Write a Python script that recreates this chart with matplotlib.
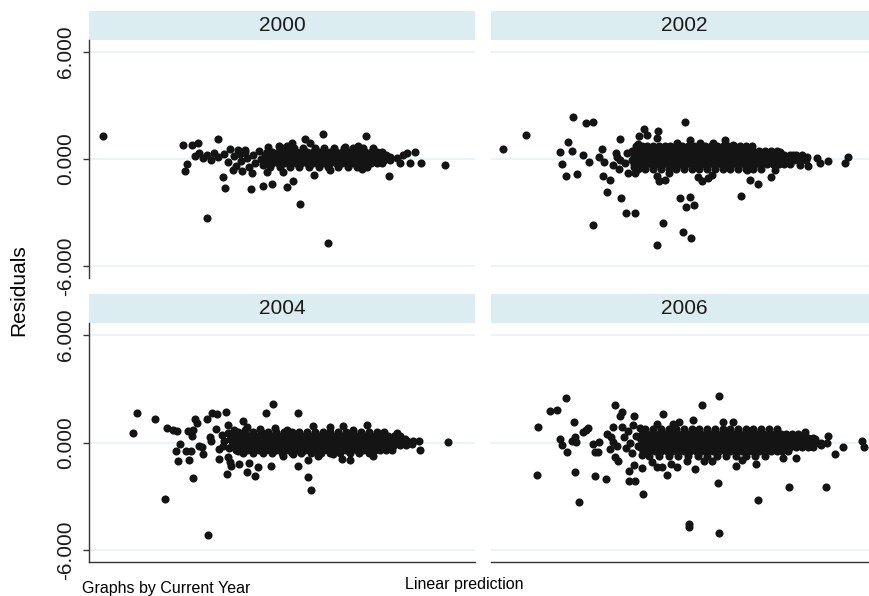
import matplotlib.pyplot as plt
import numpy as np

plt.rcParams['font.family'] = ['Liberation Sans', 'DejaVu Sans']

years = ['2000', '2002', '2004', '2006']
ytick_vals = [-6, 0, 6]
ytick_text = ['-6.000', '0.000', '6.000']

# scattered points (linear prediction, residual)
pts_2000 = [(3.6, 1.29), (24.3, 0.79), (26.7, 0.79), (28.2, 0.9), (33.4, 1.12), (24.9, -0.67),
            (25.4, -0.28), (30.6, -3.3), (35.2, -1.63), (34.7, -1.0), (42.0, -1.69), (45.1, -1.52),
            (47.4, -1.4), (51.3, -1.57), (52.8, -1.24), (54.7, -2.53), (62.0, -4.72), (50.2, -0.73),
            (58.3, -0.9), (60.6, 1.4), (56.0, 1.12), (71.8, 1.29), (77.7, -0.96), (84.5, 0.39),
            (86.0, -0.22), (92.2, -0.34),
            (27.5, 0.15), (28.5, 0.35), (29.5, 0.05), (30.5, 0.25), (31.5, -0.05), (32.5, 0.35),
            (33.5, 0.1), (35, 0.3), (36, -0.15), (36.5, 0.55), (37.5, 0.15), (38, -0.4), (39, 0.3),
            (39.5, -0.1), (40.5, 0.5), (41, 0.05), (41.5, -0.45), (42.5, 0.25), (43, -0.2), (44, 0.45),
            (44.5, 0.0), (45, -0.35),
            (46.5, 0.69), (49.1, 0.71), (51.3, 0.75), (52.6, 0.88), (57.3, 0.88), (66.3, 0.69),
            (69.7, 0.73), (38.7, 0.5), (40.4, 0.41),
            (37.4, -0.62), (39.6, -0.66), (42.1, -0.8), (46.0, -0.71), (62.5, -0.62), (70.6, -0.58),
            (80.6, -0.24), (83.2, -0.24), (81.4, 0.22), (82.3, 0.32), (79.7, 0.04), (77.9, 0.13)]

pts_2002 = [(3.0, 0.58), (9.0, 1.37), (21.2, 2.38), (24.6, 2.04), (26.3, 2.06), (19.9, 0.96),
            (18.0, 0.37), (21.0, 0.47), (18.3, -0.28), (19.4, -0.96), (22.2, -0.84), (23.9, 0.22),
            (25.4, -0.15), (28.7, 0.56), (28.0, 0.1), (29.3, -0.15), (28.9, -0.94), (30.9, -1.18),
            (30.1, -1.87), (33.8, -2.17), (26.3, -3.69), (34.9, -3.05), (37.2, -3.02), (33.3, 1.11),
            (38.3, 1.31), (39.6, 1.67), (40.5, 1.35), (43.3, 1.59), (42.9, 1.2), (50.2, 2.1),
            (42.9, -0.94), (43.6, -1.24), (48.9, -2.17), (51.6, -2.12), (50.4, -2.71), (52.6, -2.58),
            (44.6, -3.58), (49.7, -4.08), (51.9, -4.4), (43.0, -4.81), (64.8, -2.08), (67.2, -1.18),
            (69.2, -1.4), (72.5, -0.99), (73.6, -0.62), (84.4, 0.04), (85.2, -0.24), (87.2, -0.11),
            (91.7, -0.21), (92.4, 0.1), (82.2, -0.38),
            (32.4, 0.36), (32.6, 0.13), (31.7, -0.34), (33.2, -0.58), (35.2, 0.32), (35.5, -0.8),
            (37.4, -0.8), (37.1, -0.43), (34.7, -0.24), (33.4, -0.06),
            (45.1, -1.18), (46.2, -0.81), (53.7, -0.99), (54.6, -1.24), (56.3, -1.09), (57.2, -0.9),
            (66.2, -0.62), (51.5, 1.07), (54.1, 0.88), (57.6, 0.88), (60.6, 1.07), (62.8, 0.79),
            (48.1, 0.88), (38.2, 0.82),
            (81.9, 0.13), (78.3, 0.22), (80.0, -0.34), (77.5, -0.3), (74.9, 0.41)]

pts_2004 = [(11.3, 0.54), (12.5, 1.67), (17.2, 1.29), (20.1, 0.83), (21.7, 0.67), (22.7, 0.62),
            (19.7, -3.16), (23.1, -1.03), (22.5, -0.45), (23.6, -0.11), (25.1, -0.49), (26.3, -0.49),
            (26.0, -0.96), (27.0, -2.0), (25.7, 0.62), (26.6, 0.35), (27.0, 0.71), (27.5, 1.33),
            (27.9, 1.08), (28.5, -0.17), (29.2, -0.26), (29.6, -0.64), (30.5, 1.29), (31.9, 1.67),
            (33.2, 1.61), (35.4, 1.7), (30.8, -5.17), (31.3, 0.3), (31.6, 0.07), (32.8, 0.77),
            (33.7, -0.35), (33.7, -0.92), (35.7, -1.76), (35.9, -0.83), (36.5, -1.11), (36.8, -1.29),
            (36.1, 0.96), (40.0, 1.18), (40.9, 0.86), (38.9, -1.2), (40.9, -1.65), (41.5, -1.16),
            (43.0, -1.85), (43.7, -1.39), (45.8, 1.67), (47.7, 2.13), (47.1, -1.29), (54.2, 1.67),
            (54.1, -1.29), (56.8, -1.95), (57.4, -2.66), (67.6, -0.97), (65.5, -0.92), (73.7, -0.77),
            (71.9, 0.96), (93.1, 0.02), (85.6, 0.11), (85.8, -0.41), (79.7, 0.52), (81.9, 0.21),
            (83.6, -0.07),
            (34.5, 0.4), (35, 0.1), (34.8, -0.2), (36, 0.55), (36.5, 0.2), (36.3, -0.3), (37.5, 0.7),
            (37.2, -0.05), (38, 0.35), (38.5, -0.45),
            (40.4, 0.67), (48.2, 0.82), (58.1, 0.9), (62.4, 0.86), (65.7, 0.9), (68.5, 0.67),
            (75.4, 0.49), (44.3, 0.75), (51.2, 0.7),
            (50.3, -0.73), (56.8, -0.96), (59.4, -0.73), (63.3, -0.64), (52.9, -0.64)]

pts_2006 = [(12.1, 0.86), (12.0, -1.81), (15.3, 1.76), (17.0, 1.84), (19.4, 2.49), (17.9, 0.17),
            (18.4, -0.13), (19.8, -0.54), (20.9, 0.11), (22.1, 0.02), (21.6, 1.14), (21.8, 0.3),
            (21.8, -1.67), (22.9, -3.3), (23.9, 0.58), (25.2, 0.82), (24.6, 0.67), (26.5, -0.11),
            (28.1, 0.02), (26.9, -0.54), (27.8, -0.54), (26.9, -1.87), (29.8, -2.06), (32.1, 2.12),
            (34.0, 1.7), (33.4, 1.46), (33.9, 0.86), (31.7, 0.86), (30.0, 0.45), (31.0, 0.3),
            (30.8, -0.35), (31.7, 0.02), (32.6, -0.17), (32.1, -0.83), (33.0, -1.01), (37.0, 1.46),
            (35.8, -1.61), (35.8, -2.17), (37.3, -2.13), (37.0, -1.24), (39.0, -1.42), (39.3, -2.88),
            (41.6, -1.1), (42.9, -1.39), (44.2, -1.39), (45.7, -1.8), (46.6, -1.2), (48.3, -1.35),
            (50.9, -1.01), (52.8, -1.48), (44.5, 1.61), (43.1, 1.01), (47.2, 1.01), (48.8, 1.14),
            (52.4, 1.24), (54.7, 2.08), (59.1, 2.58), (51.3, -4.57), (51.4, -4.72), (59.1, -5.04),
            (58.7, -2.26), (55.3, -1.05), (57.2, -1.05), (63.5, -1.33), (65.0, -0.97), (68.6, -1.2),
            (69.3, -3.2), (77.1, -2.51), (86.8, -2.51), (75.6, -0.88), (78.9, -0.86), (62.7, 1.14),
            (60.2, 1.14), (87.4, 0.39), (89.1, -0.64), (91.3, -0.26), (96.0, 0.07), (96.7, -0.26),
            (81.3, 0.58), (83.9, 0.2), (85.6, -0.15),
            (34.5, 0.3), (35, -0.3), (35.5, 0.65), (36, 0.0), (36.5, -0.6), (37.5, 0.35), (38, -0.2),
            (38.5, 0.8), (39, -0.7), (36.8, 1.0)]

# dense band of each panel, one row per residual level: (residual, [linear predictions])
band_2000 = [(0.6, [50, 53, 55.5, 58.5, 61, 63.5, 66, 68.5, 71, 73.5]),
             (0.42, [46, 47.5, 49, 50.5, 52, 53.5, 55, 56.5, 58, 59.5, 61, 62.5, 64, 65.5, 67, 68.5,
                     70, 71.5, 73, 74.5, 76]),
             (0.2, [45.5, 47, 48.5, 50, 51.5, 53, 54.5, 56, 57.5, 59, 60.5, 62, 63.5, 65, 66.5, 68,
                    69.5, 71, 72.5, 74, 75.5, 77]),
             (-0.03, [46.3, 47.8, 49.3, 50.8, 52.3, 53.8, 55.3, 56.8, 58.3, 59.8, 61.3, 62.8, 64.3, 65.8,
                      67.3, 68.8, 70.3, 71.8, 73.3, 74.8, 76.3, 78]),
             (-0.25, [46, 47.5, 49, 50.5, 52, 53.5, 55, 56.5, 58, 59.5, 61, 62.5, 64, 65.5, 67, 68.5,
                      70, 71.5, 73, 74.5, 76]),
             (-0.45, [47, 49.5, 52, 54.5, 57, 59.5, 62, 64.5, 67, 69.5, 72])]

band_2002 = [(0.72, [37.5, 39, 40.5, 42, 43.5, 45, 46.5, 48, 49.5, 51, 52.5, 54, 55.5, 57, 58.5, 60,
                     61.5, 63, 64.5, 66, 67.5]),
             (0.46, [36.5, 38, 39.5, 41, 42.5, 44, 45.5, 47, 48.5, 50, 51.5, 53, 54.5, 56, 57.5, 59,
                     60.5, 62, 63.5, 65, 66.5, 68, 69.5, 71, 72.5, 74]),
             (0.2, [37, 38.5, 40, 41.5, 43, 44.5, 46, 47.5, 49, 50.5, 52, 53.5, 55, 56.5, 58, 59.5, 61,
                    62.5, 64, 65.5, 67, 68.5, 70, 71.5, 73, 74.5, 76, 77.5, 79, 80.5]),
             (-0.05, [36.5, 38, 39.5, 41, 42.5, 44, 45.5, 47, 48.5, 50, 51.5, 53, 54.5, 56, 57.5, 59,
                      60.5, 62, 63.5, 65, 66.5, 68, 69.5, 71, 72.5, 74, 75.5, 77, 78.5, 80, 81.5]),
             (-0.3, [37, 38.5, 40, 41.5, 43, 44.5, 46, 47.5, 49, 50.5, 52, 53.5, 55, 56.5, 58, 59.5, 61,
                     62.5, 64, 65.5, 67, 68.5, 70, 71.5, 73, 74.5, 76]),
             (-0.55, [38, 40, 42, 44, 46, 48, 50, 52, 54, 56, 58, 60, 62, 64, 66, 68, 70])]

band_2004 = [(0.6, [38.5, 40.5, 42.5, 44.5, 46.5, 48.5, 50.5, 52.5, 54.5, 56.5, 58.5, 60.5, 62.5, 64.5,
                    66.5, 68.5, 70.5, 72.5, 74.5, 76.5]),
             (0.35, [37, 38.5, 40, 41.5, 43, 44.5, 46, 47.5, 49, 50.5, 52, 53.5, 55, 56.5, 58, 59.5, 61,
                     62.5, 64, 65.5, 67, 68.5, 70, 71.5, 73, 74.5, 76, 77.5, 79, 80.5]),
             (0.1, [37.5, 39, 40.5, 42, 43.5, 45, 46.5, 48, 49.5, 51, 52.5, 54, 55.5, 57, 58.5, 60, 61.5,
                    63, 64.5, 66, 67.5, 69, 70.5, 72, 73.5, 75, 76.5, 78, 79.5, 81, 82.5, 84]),
             (-0.15, [37, 38.5, 40, 41.5, 43, 44.5, 46, 47.5, 49, 50.5, 52, 53.5, 55, 56.5, 58, 59.5, 61,
                      62.5, 64, 65.5, 67, 68.5, 70, 71.5, 73, 74.5, 76, 77.5, 79, 80.5, 82]),
             (-0.4, [38, 39.5, 41, 42.5, 44, 45.5, 47, 48.5, 50, 51.5, 53, 54.5, 56, 57.5, 59, 60.5, 62,
                     63.5, 65, 66.5, 68, 69.5, 71, 72.5, 74, 75.5, 77, 78.5]),
             (-0.6, [40, 42.5, 45, 47.5, 50, 52.5, 55, 57.5, 60, 62.5, 65, 67.5, 70, 72.5])]

band_2006 = [(0.75, [40, 42, 44, 46, 48, 50, 52, 54, 56, 58, 60, 62, 64, 66, 68, 70, 72, 74]),
             (0.5, [39, 40.5, 42, 43.5, 45, 46.5, 48, 49.5, 51, 52.5, 54, 55.5, 57, 58.5, 60, 61.5, 63,
                    64.5, 66, 67.5, 69, 70.5, 72, 73.5, 75, 76.5, 78, 79.5]),
             (0.25, [38.5, 40, 41.5, 43, 44.5, 46, 47.5, 49, 50.5, 52, 53.5, 55, 56.5, 58, 59.5, 61,
                     62.5, 64, 65.5, 67, 68.5, 70, 71.5, 73, 74.5, 76, 77.5, 79, 80.5, 82, 83.5]),
             (0.0, [39, 40.5, 42, 43.5, 45, 46.5, 48, 49.5, 51, 52.5, 54, 55.5, 57, 58.5, 60, 61.5, 63,
                    64.5, 66, 67.5, 69, 70.5, 72, 73.5, 75, 76.5, 78, 79.5, 81, 82.5, 84, 85.5, 87]),
             (-0.25, [38.5, 40, 41.5, 43, 44.5, 46, 47.5, 49, 50.5, 52, 53.5, 55, 56.5, 58, 59.5, 61,
                      62.5, 64, 65.5, 67, 68.5, 70, 71.5, 73, 74.5, 76, 77.5, 79, 80.5, 82, 83.5]),
             (-0.5, [39.5, 41, 42.5, 44, 45.5, 47, 48.5, 50, 51.5, 53, 54.5, 56, 57.5, 59, 60.5, 62, 63.5,
                     65, 66.5, 68, 69.5, 71, 72.5, 74, 75.5, 77]),
             (-0.75, [41, 43.5, 46, 48.5, 51, 53.5, 56, 58.5, 61, 63.5, 66, 68.5, 71])]

points = [pts_2000, pts_2002, pts_2004, pts_2006]
bands = [band_2000, band_2002, band_2004, band_2006]

W, H = 870, 596
fig = plt.figure(figsize=(W / 100, H / 100), dpi=100)


def box(left, top, right, bottom):
    return [left / W, 1 - bottom / H, (right - left) / W, (bottom - top) / H]


# pixel frames of the four panels: (left, right, strip top, plot top, plot bottom)
frames = [(89, 475, 11, 40, 278), (491, 877, 11, 40, 278),
          (89, 475, 294, 323, 562), (491, 877, 294, 323, 562)]

for i, (yr, (l, r, st, top, bot)) in enumerate(zip(years, frames)):
    strip = fig.add_axes(box(l, st, r, top), facecolor='#dcedf2')
    strip.set_xticks([])
    strip.set_yticks([])
    for s in strip.spines.values():
        s.set_visible(False)
    strip.text(0.5, 0.5, yr, ha='center', va='center', fontsize=15, color='#1a1a1a')

    ax = fig.add_axes(box(l, top, r, bot))
    xs = [p[0] for p in points[i]]
    ys = [p[1] for p in points[i]]
    for yv, row in bands[i]:
        xs += row
        ys += [yv] * len(row)
    for g in ytick_vals:
        ax.axhline(g, color='#e8f3f4', lw=1.3, zorder=0)
    ax.scatter(xs, ys, s=34, color='#141414', linewidths=0, zorder=2)
    ax.set_xlim(0, 100)
    ax.set_ylim(-6.67, 6.67)
    ax.set_xticks([])
    ax.spines['top'].set_visible(False)
    ax.spines['right'].set_visible(False)
    ax.spines['bottom'].set_visible(i >= 2)
    ax.spines['left'].set_visible(i % 2 == 0)
    for s in ('left', 'bottom'):
        ax.spines[s].set_color('#333333')
        ax.spines[s].set_linewidth(1.0)
    if i % 2 == 0:
        ax.set_yticks(ytick_vals)
        ax.set_yticklabels(ytick_text, rotation=90, va='center', fontsize=15, color='#1a1a1a')
        ax.tick_params(axis='y', length=4, width=1, color='#333333', pad=6)
    else:
        ax.set_yticks([])

fig.text(19 / W, 1 - 290 / H, 'Residuals', rotation=90, ha='center', va='center', fontsize=15)
fig.text(82 / W, 1 - 589 / H, 'Graphs by Current Year', ha='left', va='center', fontsize=11.5)
fig.text(464 / W, 1 - 585 / H, 'Linear prediction', ha='center', va='center', fontsize=11.5)

fig.savefig('out.png', dpi=100)
